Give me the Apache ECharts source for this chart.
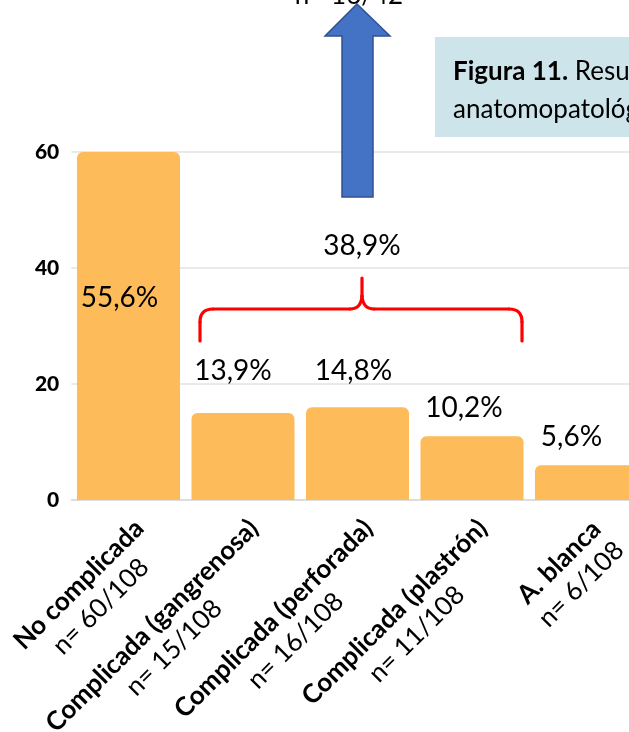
<!DOCTYPE html>
<html>
<head>
<meta charset="utf-8">
<script src="https://cdn.jsdelivr.net/npm/echarts@6/dist/echarts.min.js"></script>
<style>
html,body{margin:0;padding:0;background:#fff;}
#chart{width:629px;height:732px;}
</style>
</head>
<body>
<div id="chart"></div>
<script>
// ---- data ----
const categories = ['No complicada', 'Complicada (gangrenosa)', 'Complicada (perforada)', 'Complicada (plastrón)', 'A. blanca'];
const counts = ['n= 60/108', 'n= 15/108', 'n= 16/108', 'n= 11/108', 'n= 6/108'];
const values = [60, 15, 16, 11, 6];
const pctLabels = ['55,6%', '13,9%', '14,8%', '10,2%', '5,6%'];
const yTicks = [0, 20, 40, 60];
const groupPctLabel = '38,9%';
const arrowLabel = 'n= 16/42';
const captionBold = 'Figura 11.';
const captionRest = ' Resultado';
const captionLine2 = 'anatomopatológico';

// ---- layout / style (not data) ----
const labelOffsets = [[-9, 161], [-10, -27], [-4, -21], [-8, -13], [-15, -13]];
const FONT = 'Lato, "Open Sans", sans-serif';

const chart = echarts.init(document.getElementById('chart'), null, {renderer: 'canvas'});

function seg(x1, y1, x2, y2) {
  return {type: 'line', z: 11, shape: {x1: x1, y1: y1, x2: x2, y2: y2},
    style: {stroke: '#ff0000', lineWidth: 3.2, lineCap: 'round'}};
}
function curve(x1, y1, cx, cy, x2, y2) {
  return {type: 'bezierCurve', z: 11, shape: {x1: x1, y1: y1, cpx1: cx, cpy1: cy, x2: x2, y2: y2},
    style: {stroke: '#ff0000', lineWidth: 3.2, fill: null, lineCap: 'round'}};
}

const bracket = [
  seg(200, 341, 200, 322),
  curve(200, 322, 200, 309, 213, 309),
  seg(213, 309, 350, 309),
  curve(350, 309, 361, 309, 362, 296),
  seg(362, 296, 362, 278),
  curve(362, 296, 363, 309, 374, 309),
  seg(374, 309, 509, 309),
  curve(509, 309, 522, 309, 522, 322),
  seg(522, 322, 522, 341)
];

const option = {
  backgroundColor: '#ffffff',
  animation: false,
  grid: {left: 71.25, top: 152, width: 572.5, height: 348, containLabel: false, outerBoundsMode: 'none'},
  xAxis: {
    type: 'category',
    data: categories,
    axisLine: {show: true, lineStyle: {color: '#d9d9d9', width: 1.5}},
    axisTick: {show: false},
    axisLabel: {
      interval: 0,
      rotate: 45,
      margin: 13,
      verticalAlign: 'top',
      padding: [0, 0, 0, 0],
      color: '#000',
      formatter: function (val, idx) {
        return '{b|' + val + '}\n{n|' + counts[idx] + '}';
      },
      rich: {
        b: {fontFamily: FONT, fontWeight: 'bold', fontSize: 26, lineHeight: 31, align: 'center', color: '#000'},
        n: {fontFamily: FONT, fontWeight: 'normal', fontSize: 26, lineHeight: 31, align: 'center', color: '#000'}
      }
    }
  },
  yAxis: {
    type: 'value',
    min: yTicks[0],
    max: yTicks[yTicks.length - 1],
    interval: yTicks[1] - yTicks[0],
    axisLine: {show: false},
    axisTick: {show: false},
    splitLine: {lineStyle: {color: '#e3e3e3', width: 1.5}},
    axisLabel: {margin: 12, color: '#000', fontFamily: '"Lato Black", "Lato Heavy", Lato, sans-serif', fontWeight: 900, fontSize: 21}
  },
  series: [{
    type: 'bar',
    barCategoryGap: '10%',
    itemStyle: {color: '#fdbb5a', borderRadius: [6, 6, 0, 0]},
    data: values.map(function (v, i) {
      return {value: v, label: {offset: labelOffsets[i]}};
    }),
    label: {
      show: true,
      position: 'top',
      distance: 0,
      color: '#000',
      fontFamily: FONT,
      fontSize: 28,
      lineHeight: 30,
      formatter: function (p) { return pctLabels[p.dataIndex]; }
    },
    z: 2
  }],
  graphic: [
    {
      type: 'rect', z: 10,
      shape: {x: 435, y: 37, width: 240, height: 100},
      style: {fill: '#cde5ea'}
    },
    {
      type: 'text', z: 11, x: 453, y: 53,
      style: {
        text: '{b|' + captionBold + '}{r|' + captionRest + '}\n{r|' + captionLine2 + '}',
        rich: {
          b: {fontFamily: FONT, fontWeight: 'bold', fontSize: 26, lineHeight: 38, fill: '#000'},
          r: {fontFamily: FONT, fontWeight: 'normal', fontSize: 26, lineHeight: 38, fill: '#000'}
        },
        verticalAlign: 'top'
      }
    },
    {
      type: 'polygon', z: 10,
      shape: {points: [[357, 4], [325, 36], [342, 36], [342, 197], [373, 197], [373, 36], [390, 36]]},
      style: {fill: '#4472c4', stroke: '#2f528f', lineWidth: 1.5}
    },
    {
      type: 'text', z: 11, x: 349, y: -4,
      style: {text: arrowLabel, fontFamily: FONT, fontSize: 26, fill: '#000', align: 'center', verticalAlign: 'middle'}
    },
    {
      type: 'text', z: 11, x: 362, y: 246,
      style: {text: groupPctLabel, fontFamily: FONT, fontSize: 28, fill: '#000', align: 'center', verticalAlign: 'middle'}
    }
  ].concat(bracket)
};
chart.setOption(option);
</script>
</body>
</html>
